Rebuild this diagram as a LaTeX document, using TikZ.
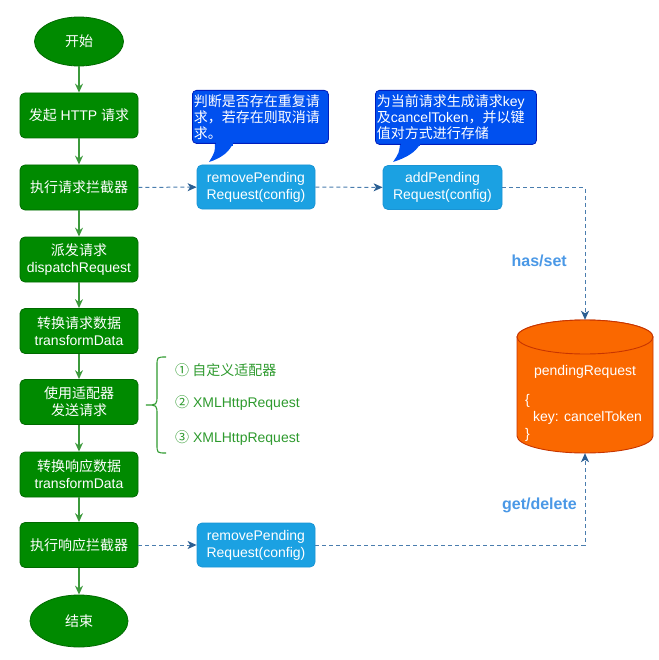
\documentclass[tikz,border=0pt]{standalone}
\usepackage{fontspec}
\setmainfont{Liberation Sans}
\newfontfamily\cjk{Noto Sans CJK SC}
\usetikzlibrary{shapes.geometric,arrows.meta}
\definecolor{gfill}{HTML}{008A00}
\definecolor{gline}{HTML}{006A00}
\definecolor{garrow}{HTML}{3C9A3C}
\definecolor{bfill}{HTML}{1BA1E2}
\definecolor{bline}{HTML}{1A94D4}
\definecolor{cfill}{HTML}{0050EF}
\definecolor{cline}{HTML}{001DBC}
\definecolor{ofill}{HTML}{FA6800}
\definecolor{oline}{HTML}{C73500}
\definecolor{dline}{HTML}{4A7DAE}
\definecolor{dtip}{HTML}{2A5E92}
\definecolor{lbl}{HTML}{4A98E6}
\definecolor{gtext}{HTML}{2E9A2E}
\begin{document}
\begin{tikzpicture}[x=1pt,y=-1pt,
  base/.style={font=\fontsize{14}{17}\selectfont},
  gbox/.style={base, draw=gline, fill=gfill, rounded corners=5pt, minimum width=118pt, minimum height=45pt, text=white, align=center, inner sep=0pt, line width=0.8pt},
  gterm/.style={base, ellipse, draw=gline, fill=gfill, text=white, inner sep=0pt, line width=0.8pt},
  bbox/.style={base, draw=bline, fill=bfill, rounded corners=5pt, minimum width=118pt, minimum height=44pt, text=white, align=center, inner sep=0pt, line width=0.8pt},
  callout/.style={font=\fontsize{14}{16}\selectfont, draw=cline, fill=cfill, rounded corners=4pt, text=white, align=left, inner sep=1.5pt, anchor=north west, line width=0.8pt},
  garr/.style={draw=garrow, line width=1.2pt, -{Stealth[length=9pt,width=8pt,inset=3pt]}},
  darr/.style={draw=dline, line width=1pt, dash pattern=on 4pt off 3pt, -{Stealth[length=9pt,width=8pt,inset=2.5pt,color=dtip]}},
  lab/.style={font=\fontsize{16}{18}\selectfont\bfseries, text=lbl, inner sep=0pt},
  gitem/.style={base, text=gtext, anchor=west, inner sep=0pt},
  ctext/.style={base, text=white, inner sep=0pt}
]
\useasboundingbox (0,0) rectangle (658,660);

% main flow
\node[gterm, minimum width=89pt, minimum height=49pt] (start) at (79,41.5) {{\cjk 开始}};
\node[gbox] (b1) at (79,115.5) {{\cjk 发起} HTTP {\cjk 请求}};
\node[gbox] (b2) at (79,187.5) {{\cjk 执行请求拦截器}};
\node[gbox] (b3) at (79,259.5) {{\cjk 派发请求}\\dispatchRequest};
\node[gbox] (b4) at (79,331) {{\cjk 转换请求数据}\\transformData};
\node[gbox] (b5) at (79,402) {{\cjk 使用适配器}\\{\cjk 发送请求}};
\node[gbox] (b6) at (79,474.5) {{\cjk 转换响应数据}\\transformData};
\node[gbox] (b7) at (79,545) {{\cjk 执行响应拦截器}};
\node[gterm, minimum width=98pt, minimum height=52pt] (stop) at (79,621) {{\cjk 结束}};

\draw[garr] (start) -- (b1);
\draw[garr] (b1) -- (b2);
\draw[garr] (b2) -- (b3);
\draw[garr] (b3) -- (b4);
\draw[garr] (b4) -- (b5);
\draw[garr] (b5) -- (b6);
\draw[garr] (b6) -- (b7);
\draw[garr] (b7) -- (stop);

% blue boxes
\node[bbox] (rp1) at (256,187) {removePending\\Request(config)};
\node[bbox, minimum width=119pt] (ap) at (442.5,187.5) {addPending\\Request(config)};
\node[bbox] (rp2) at (256,545) {removePending\\Request(config)};

% callouts
\fill[cfill] (214,140) -- (215,143) .. controls (215,152) .. (209,162) .. controls (222,158) and (230,151) .. (233,143) -- (233,140) -- cycle;
\node[callout, text width=133pt, minimum height=53pt] (c1) at (192,90) {{\cjk 判断是否存在重复请}\\{\cjk 求，若存在则取消请}\\{\cjk 求。}};
\fill[cfill] (400,140) -- (400,144) .. controls (399,153) .. (393,162) .. controls (406,158) and (416,152) .. (420,144) -- (420,140) -- cycle;
\node[callout, text width=158pt, minimum height=54pt] (c2) at (375,90) {{\cjk 为当前请求生成请求}key\\{\cjk 及}cancelToken{\cjk ，并以键}\\{\cjk 值对方式进行存储}};
\fill[cfill] (215.5,142) -- (232.5,142) -- (232.5,146) -- (215.5,146) -- cycle;
\fill[cfill] (400.5,142) -- (419.5,142) -- (419.5,146) -- (400.5,146) -- cycle;

% cylinder
\path[fill=ofill, draw=oline, line width=0.9pt] (517,337) -- (517,436) arc[start angle=180, end angle=360, x radius=68pt, y radius=17pt] -- (653,337) arc[start angle=0, end angle=180, x radius=68pt, y radius=17pt] -- cycle;
\draw[fill=ofill, draw=oline, line width=0.9pt] (585,337) ellipse[x radius=68pt, y radius=17pt];
\node[minimum width=136pt, minimum height=133pt, inner sep=0pt] (pending) at (585,386.5) {};
\node[ctext] (ptitle) at (585,372) {pendingRequest};
\node[ctext, anchor=north west, align=left, font=\fontsize{14}{17}\selectfont] (pbody) at (525,394) {\{\\\hspace{8pt}key: cancelToken\\\}};

% dashed connectors
\draw[darr] (b2) -- (rp1);
\draw[darr] (rp1) -- (ap);
\draw[darr] (ap.east) -| (pending.north);
\draw[darr] (b7) -- (rp2);
\draw[darr] (rp2.east) -| (pending.south);
\node[lab, anchor=east] (hs) at (567,261) {has/set};
\node[lab, anchor=east] (gd) at (577,505) {get/delete};

% brace and adapter list
\draw[draw=gtext, line width=1.1pt] (166,357) .. controls (157,357) .. (157,366) -- (157,395) .. controls (157,405) .. (146,405) .. controls (157,405) .. (157,415) -- (157,444) .. controls (157,453) .. (166,453);
\node[gitem] (i1) at (175,370) {{\cjk ① 自定义适配器}};
\node[gitem] (i2) at (175,403) {{\cjk ②} XMLHttpRequest};
\node[gitem] (i3) at (175,438) {{\cjk ③} XMLHttpRequest};
\end{tikzpicture}
\end{document}
